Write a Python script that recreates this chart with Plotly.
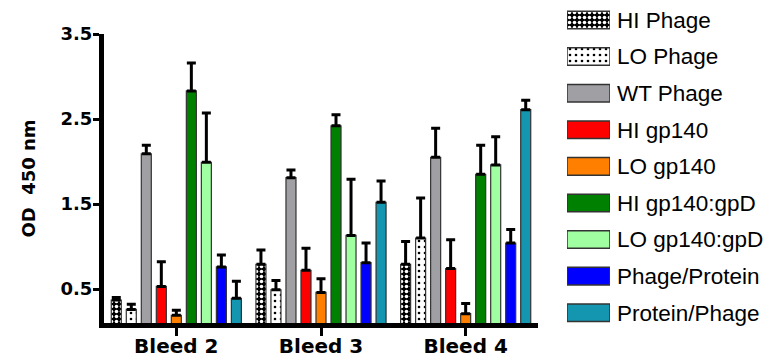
import plotly.graph_objects as go

bleeds = ["Bleed 2", "Bleed 3", "Bleed 4"]
series_names = ["HI Phage", "LO Phage", "WT Phage", "HI gp140", "LO gp140",
                "HI gp140:gpD", "LO gp140:gpD", "Phage/Protein", "Protein/Phage"]

hi_phage = [0.37, 0.79, 0.79]
hi_phage_err = [0.03, 0.17, 0.27]
lo_phage = [0.26, 0.49, 1.10]
lo_phage_err = [0.06, 0.11, 0.47]
wt_phage = [2.09, 1.81, 2.05]
wt_phage_err = [0.10, 0.09, 0.34]
hi_gp140 = [0.53, 0.72, 0.74]
hi_gp140_err = [0.29, 0.26, 0.34]
lo_gp140 = [0.19, 0.46, 0.21]
lo_gp140_err = [0.06, 0.16, 0.12]
hi_gp140_gpd = [2.83, 2.42, 1.85]
hi_gp140_gpd_err = [0.33, 0.13, 0.34]
lo_gp140_gpd = [1.99, 1.13, 1.96]
lo_gp140_gpd_err = [0.58, 0.66, 0.33]
phage_protein = [0.76, 0.81, 1.04]
phage_protein_err = [0.14, 0.23, 0.16]
protein_phage = [0.39, 1.52, 2.61]
protein_phage_err = [0.20, 0.25, 0.11]

y_ticks = [0.5, 1.5, 2.5, 3.5]
y_tick_labels = ["0.5", "1.5", "2.5", "3.5"]

values = [hi_phage, lo_phage, wt_phage, hi_gp140, lo_gp140,
          hi_gp140_gpd, lo_gp140_gpd, phage_protein, protein_phage]
errors = [hi_phage_err, lo_phage_err, wt_phage_err, hi_gp140_err, lo_gp140_err,
          hi_gp140_gpd_err, lo_gp140_gpd_err, phage_protein_err, protein_phage_err]

colors = ["#000000", "#ffffff", "#a0a0a4", "#ff0000", "#ff8000",
          "#008000", "#a0ffa0", "#0000ff", "#1496b0"]
pat_shapes = [".", ".", "", "", "", "", "", "", ""]
pat_sizes = [5, 6, 6, 6, 6, 6, 6, 6, 6]
pat_solid = [0.4, 0.15, 0.3, 0.3, 0.3, 0.3, 0.3, 0.3, 0.3]
pat_fg = ["#ffffff", "#000000", "", "", "", "", "", "", ""]

FONT = "Liberation Sans, Arial, sans-serif"
BOLD_FONT = "DejaVu Sans, Liberation Sans, sans-serif"


def make_marker(c, sh, sz, so, fg, lw):
    m = dict(color=c, line=dict(color="#333333", width=lw))
    if sh:
        m["pattern"] = dict(shape=sh, size=sz, solidity=so,
                            fgcolor=fg, bgcolor=c, fillmode="replace")
    return m


fig = go.Figure()
for name, v, e, c, sh, sz, so, fg in zip(series_names, values, errors, colors,
                                         pat_shapes, pat_sizes, pat_solid, pat_fg):
    fig.add_trace(go.Bar(
        x=bleeds, y=v, name=name, marker=make_marker(c, sh, sz, so, fg, 1.2),
        showlegend=False,
        error_y=dict(type="data", array=e, arrayminus=[0] * len(e),
                     symmetric=False, color="#000000", thickness=3, width=4.5),
        xaxis="x", yaxis="y",
    ))

# legend swatches: one horizontal bar per series on separate axes
for name, c, sh, sz, so, fg in zip(series_names, colors, pat_shapes, pat_sizes,
                                   pat_solid, pat_fg):
    fig.add_trace(go.Bar(
        y=[name], x=[1], orientation="h", width=0.48, offset=-0.24,
        showlegend=False, hoverinfo="skip",
        marker=make_marker(c, sh, sz, so, fg, 1.5),
        xaxis="x2", yaxis="y2",
    ))

# page body adds an 8px margin, so the figure is 8px smaller and offsets shift
W, H = 763, 352
L, T, B = 96, 2, 37
W_PLOT = float(W - L)
H_PLOT = float(H - T - B)
fig.update_layout(
    width=W, height=H,
    margin=dict(l=L, r=0, t=T, b=B),
    paper_bgcolor="white", plot_bgcolor="white",
    barmode="group", bargap=0.066, bargroupgap=0.333,
    font=dict(family=FONT, color="black"),
    xaxis=dict(domain=[0, 434 / W_PLOT], range=[-0.5, 2.5],
               showline=True, linecolor="black", linewidth=5,
               ticks="outside", ticklen=8, tickwidth=3, tickcolor="black",
               tickfont=dict(size=20, family=BOLD_FONT, weight="bold"),
               ticklabelstandoff=-7, automargin=False,
               showgrid=False, zeroline=False, fixedrange=True),
    yaxis=dict(domain=[0, (H_PLOT - 24) / H_PLOT], range=[0.1, 3.5],
               tickvals=y_ticks, ticktext=y_tick_labels,
               showline=True, linecolor="black", linewidth=5,
               ticks="outside", ticklen=6, tickwidth=3, tickcolor="black",
               tickfont=dict(size=18, family=BOLD_FONT, weight="bold"),
               ticklabelstandoff=-3,
               title=dict(text="OD\u00a0 450 nm", standoff=22,
                          font=dict(size=18, family=BOLD_FONT, weight="bold")),
               automargin=False,
               showgrid=False, zeroline=False, fixedrange=True),
    xaxis2=dict(domain=[(559 - L) / W_PLOT, (602 - L) / W_PLOT],
                range=[0, 1], anchor="y2", visible=False, fixedrange=True),
    yaxis2=dict(domain=[0, 1], anchor="x2", side="right",
                categoryorder="array", categoryarray=series_names,
                range=[8.281, -0.273], showline=False, showgrid=False,
                zeroline=False, ticks="", ticklabelstandoff=6,
                automargin=False,
                tickfont=dict(size=22.5, family=FONT, color="black"),
                fixedrange=True),
)

fig.write_html("out.html")
